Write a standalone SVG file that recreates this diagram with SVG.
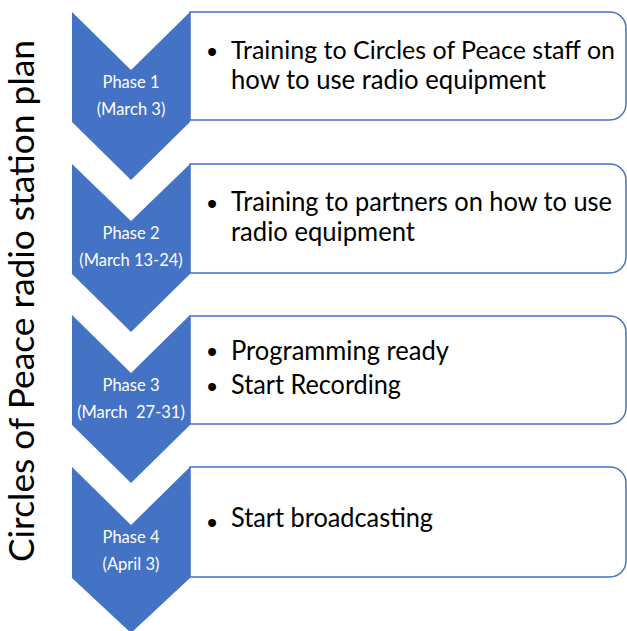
<svg xmlns="http://www.w3.org/2000/svg" width="627" height="631" viewBox="0 0 627 631">
<style>
.box{fill:#fff;stroke:#4472C4;stroke-width:1.5}
.chev{fill:#4472C4}
.ph{font-family:Lato,"Liberation Sans",sans-serif;font-size:16.5px;fill:#fff;text-anchor:middle}
.tx{font-family:Lato,"Liberation Sans",sans-serif;font-size:26px;fill:#000}
.bul{font-family:"Liberation Sans",sans-serif;font-size:29px;fill:#000;text-anchor:middle}
.title{font-family:Lato,"Liberation Sans",sans-serif;font-size:35px;fill:#000;text-anchor:middle}
</style>
<rect width="627" height="631" fill="#fff"/>
<text class="title" transform="translate(34 301) rotate(-90)" textLength="522" lengthAdjust="spacingAndGlyphs">Circles of Peace radio station plan</text>
<g id="phase1">
<path class="box" d="M190 12 H610 A16 16 0 0 1 626 28 V104 A16 16 0 0 1 610 120 H190 Z"/>
<polygon class="chev" points="72,12 131,70 190,12 190,122 131,180 72,122"/>
<text class="ph" x="131" y="88">Phase 1</text>
<text class="ph" x="131" y="115">(March 3)</text>
<text class="bul" x="212" y="61.5">•</text>
<text class="tx" x="231" y="59" style="font-size:25px" textLength="384" lengthAdjust="spacingAndGlyphs">Training to Circles of Peace staff on</text>
<text class="tx" x="231" y="89" textLength="315" lengthAdjust="spacingAndGlyphs">how to use radio equipment</text>
</g>
<g id="phase2">
<path class="box" d="M190 164 H610 A16 16 0 0 1 626 180 V257 A16 16 0 0 1 610 273 H190 Z"/>
<polygon class="chev" points="72,164 131,221 190,164 190,274 131,332 72,274"/>
<text class="ph" x="131" y="239">Phase 2</text>
<text class="ph" x="131" y="266">(March 13-24)</text>
<text class="bul" x="212" y="213.5">•</text>
<text class="tx" x="231" y="211" textLength="381" lengthAdjust="spacingAndGlyphs">Training to partners on how to use</text>
<text class="tx" x="231" y="241" textLength="184" lengthAdjust="spacingAndGlyphs">radio equipment</text>
</g>
<g id="phase3">
<path class="box" d="M190 316 H610 A16 16 0 0 1 626 332 V408 A16 16 0 0 1 610 424 H190 Z"/>
<polygon class="chev" points="72,315 131,373 190,315 190,425 131,483 72,425"/>
<text class="ph" x="131" y="391">Phase 3</text>
<text class="ph" x="131" y="418" xml:space="preserve">(March  27-31)</text>
<text class="bul" x="212" y="362">•</text>
<text class="bul" x="212" y="396.5">•</text>
<text class="tx" x="231" y="360" textLength="218" lengthAdjust="spacingAndGlyphs">Programming ready</text>
<text class="tx" x="231" y="394" textLength="170" lengthAdjust="spacingAndGlyphs">Start Recording</text>
</g>
<g id="phase4">
<path class="box" d="M190 467 H610 A16 16 0 0 1 626 483 V561 A16 16 0 0 1 610 577 H190 Z"/>
<polygon class="chev" points="72,467 131,525 190,467 190,578 131,633 72,578"/>
<text class="ph" x="131" y="543">Phase 4</text>
<text class="ph" x="131" y="570">(April 3)</text>
<text class="bul" x="212" y="532.5">•</text>
<text class="tx" x="231" y="527" textLength="202" lengthAdjust="spacingAndGlyphs">Start broadcasting</text>
</g>
<g id="connectors"></g>
</svg>
